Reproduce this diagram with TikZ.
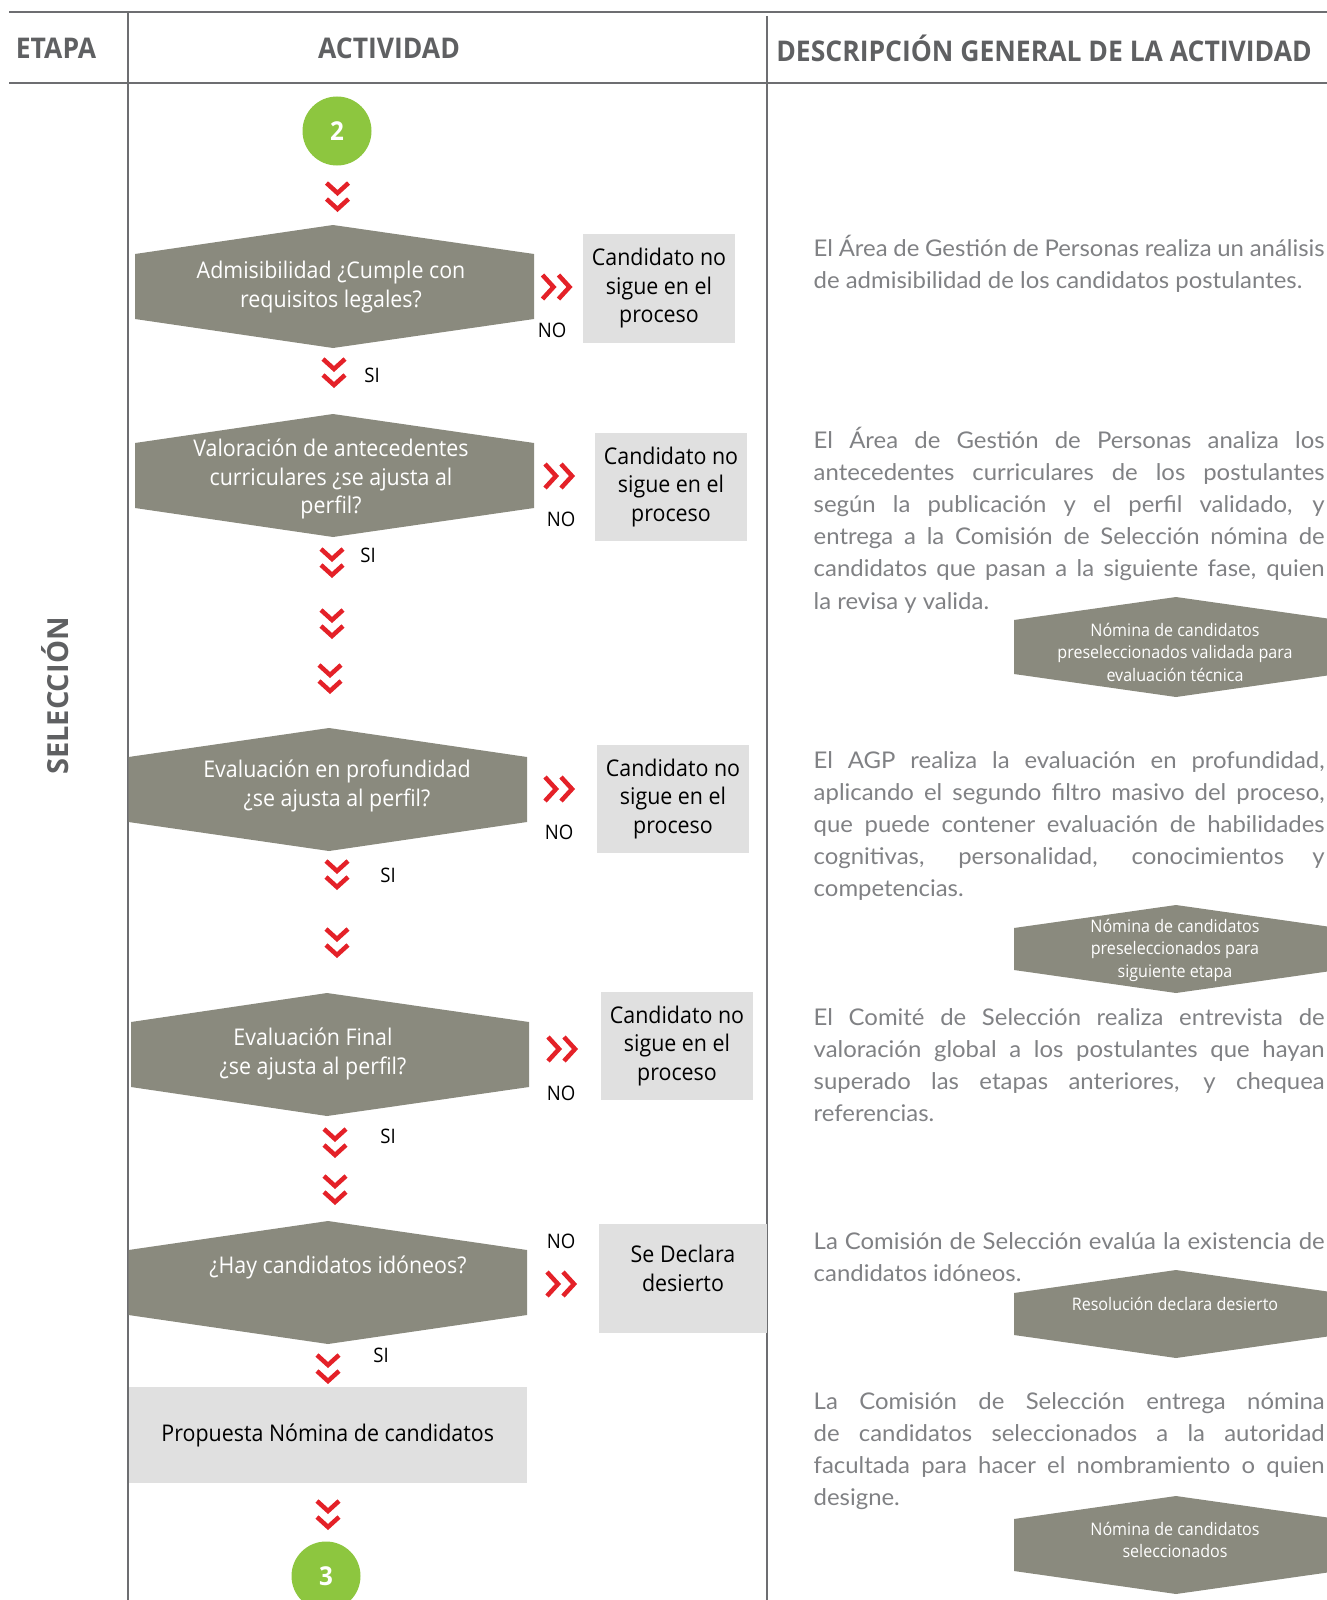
\documentclass[tikz,border=0pt]{standalone}
\usepackage{fontspec}
\setmainfont{Open Sans}[FakeStretch=0.93]
\newfontfamily\widefont{Open Sans}
\newfontfamily\descfont{Lato}[FakeStretch=1.04]

\definecolor{stepgray}{RGB}{138,138,126}
\definecolor{boxgray}{RGB}{224,224,224}
\definecolor{okgreen}{RGB}{141,198,63}
\definecolor{chevred}{RGB}{228,33,40}
\definecolor{rulegray}{RGB}{109,110,113}
\definecolor{headgray}{RGB}{95,96,98}
\definecolor{descgray}{RGB}{128,129,132}

\tikzset{
  chev/.style={draw=chevred, line width=4.5pt, line join=miter},
  decision/.style={fill=stepgray},
  headtext/.style={text=headgray, font=\bfseries\fontsize{28.5}{32}\selectfont},
  steptext/.style={align=center, text=white, font=\fontsize{23}{28.5}\selectfont},
  outbox/.style={fill=boxgray, align=center, font=\fontsize{23}{28.5}\selectfont},
  answer/.style={font=\fontsize{20}{24}\selectfont},
  connector/.style={circle, fill=okgreen, minimum size=69pt, text=white,
    font=\bfseries\fontsize{26}{30}\selectfont},
  desc/.style={anchor=north west, text width=511pt, align=justify, text=descgray,
    font=\descfont\fontsize{23}{32.1}\selectfont},
  outtext/.style={align=center, text=white, font=\fontsize{17.3}{22.5}\selectfont},
}

\begin{document}
\begin{tikzpicture}
    [
      x=1pt, y=-1pt,
      every node/.style={inner sep=0pt},
    ]
    %
    \useasboundingbox (0,0) rectangle (1327,1600);
    \clip (0,0) rectangle (1327,1600);

    % table rules
    \draw [rulegray, line width=2pt] (9,12.5) -- (1327,12.5);
    \draw [rulegray, line width=2pt] (9,83) -- (1327,83);
    \draw [rulegray, line width=2pt] (127.5,12.5) -- (127.5,1600);
    \draw [rulegray, line width=2pt] (767,16) -- (767,1600);

    % headings
    \node [headtext] (etapa) at (56,48) {ETAPA};
    \node [headtext] (actividad) at (389,48) {ACTIVIDAD};
    \node [headtext] (descripcion) at (1044,48) {DESCRIPCIÓN GENERAL DE LA ACTIVIDAD};
    \node [headtext, font=\widefont\bfseries\fontsize{29}{32}\selectfont, rotate=90] (seleccion) at (55,696) {SELECCIÓN};

    % decisions
    \foreach \cx/\t/\l/\r in {333/225/135/534, 333/414/135/534, 329/728/128.5/527,
                              327/993/131/529, 328/1221/128.5/527} {
      \fill [decision] (\l,\t+29) -- (\cx,\t) -- (\r,\t+29) -- (\r,\t+94)
                       -- (\cx,\t+123) -- (\l,\t+94) -- cycle;
    }
    \node [steptext] (admis) at (331,287) {Admisibilidad ¿Cumple con\\requisitos legales?};
    \node [steptext] (valor) at (331,479) {Valoración de antecedentes\\curriculares ¿se ajusta al\\perfil?};
    \node [steptext] (profund) at (337,786) {Evaluación en profundidad\\¿se ajusta al perfil?};
    \node [steptext] (final) at (313,1054) {Evaluación Final\\¿se ajusta al perfil?};
    \node [steptext] (idoneos) at (338,1267) {¿Hay candidatos idóneos?};

    % connectors 2 and 3
    \node [connector] (c2) at (337,131) {2};
    \node [connector] (c3) at (326,1576) {3};

    % results
    \node [outbox, minimum width=152pt, minimum height=109pt] (no1) at (659,288.5) {Candidato no\\sigue en el\\proceso};
    \node [outbox, minimum width=152pt, minimum height=108pt] (no2) at (671,487) {Candidato no\\sigue en el\\proceso};
    \node [outbox, minimum width=152pt, minimum height=108pt] (no3) at (673,799) {Candidato no\\sigue en el\\proceso};
    \node [outbox, minimum width=152pt, minimum height=108pt] (no4) at (677,1046) {Candidato no\\sigue en el\\proceso};
    \node [outbox, minimum width=168pt, minimum height=109pt] (desierto) at (683,1278.5) {Se Declara\\desierto\\[-8pt]\mbox{}};
    \node [outbox, minimum width=398.5pt, minimum height=96pt] (propuesta) at (327.75,1435) {Propuesta Nómina de candidatos};

    % yes / no
    \node [answer] (no1l) at (552,330) {NO};
    \node [answer] (no2l) at (561,519) {NO};
    \node [answer] (no3l) at (559,832) {NO};
    \node [answer] (no4l) at (561,1093) {NO};
    \node [answer] (no5l) at (561,1241) {NO};
    \node [answer] (si1) at (372,375) {SI};
    \node [answer] (si2) at (368,555) {SI};
    \node [answer] (si3) at (388,875) {SI};
    \node [answer] (si4) at (388,1136) {SI};
    \node [answer] (si5) at (381,1355) {SI};

    \foreach \x/\y in {337.5/181, 334/357, 332/547, 332/608, 330/663, 337/859,
                       337/927, 335/1127, 335/1174, 328/1353, 328/1499} {
      % down
      \draw [chev] (\x-11,\y+2) -- (\x,\y+12) -- (\x+11,\y+2);
      \draw [chev] (\x-11,\y+18) -- (\x,\y+28) -- (\x+11,\y+18);
    }
    \foreach \x/\y in {557.5/287, 560/476, 560/789, 563/1049, 562/1284} {
      % right
      \draw [chev] (\x-15,\y-12) -- (\x-4,\y) -- (\x-15,\y+12);
      \draw [chev] (\x+1,\y-12) -- (\x+12,\y) -- (\x+1,\y+12);
    }

    % descriptions
    \node [desc] (desc1) at (813.5,235) {El Área de Gestión de Personas realiza un análisis\linebreak de admisibilidad de los candidatos postulantes.};
    \node [desc] (desc2) at (813.5,427) {El Área de Gestión de Personas analiza los\linebreak antecedentes curriculares de los postulantes\linebreak según la publicación y el perfil validado, y\linebreak entrega a la Comisión de Selección nómina de\linebreak candidatos que pasan a la siguiente fase, quien\linebreak la revisa y valida.};
    \node [desc] (desc3) at (813.5,751) {El AGP realiza la evaluación en profundidad,\linebreak aplicando el segundo filtro masivo del proceso,\linebreak que puede contener evaluación de habilidades\linebreak cognitivas, personalidad, conocimientos y\linebreak competencias.};
    \node [desc] (desc4) at (813.5,1008) {El Comité de Selección realiza entrevista de\linebreak valoración global a los postulantes que hayan\linebreak superado las etapas anteriores, y chequea\linebreak referencias.};
    \node [desc] (desc5) at (813.5,1232) {La Comisión de Selección evalúa la existencia de\linebreak candidatos idóneos.};
    \node [desc] (desc6) at (813.5,1392) {La Comisión de Selección entrega nómina\linebreak de candidatos seleccionados a la autoridad\linebreak facultada para hacer el nombramiento o quien\linebreak designe.};

    % outputs
    \foreach \t/\h in {597/100, 905/88, 1270/88, 1496/98} {
      \fill [decision] (1014,\t+23) -- (1176,\t) -- (1338,\t+23) -- (1338,\t+\h-23)
                       -- (1176,\t+\h) -- (1014,\t+\h-23) -- cycle;
    }
    \node [outtext] (out1) at (1175,652) {Nómina de candidatos\\preseleccionados validada para\\evaluación técnica};
    \node [outtext] (out2) at (1175,950) {Nómina de candidatos\\preseleccionados para\\siguiente etapa};
    \node [outtext] (out3) at (1175,1304) {Resolución declara desierto};
    \node [outtext] (out4) at (1175,1540) {Nómina de candidatos\\seleccionados};
  \end{tikzpicture}
\end{document}
